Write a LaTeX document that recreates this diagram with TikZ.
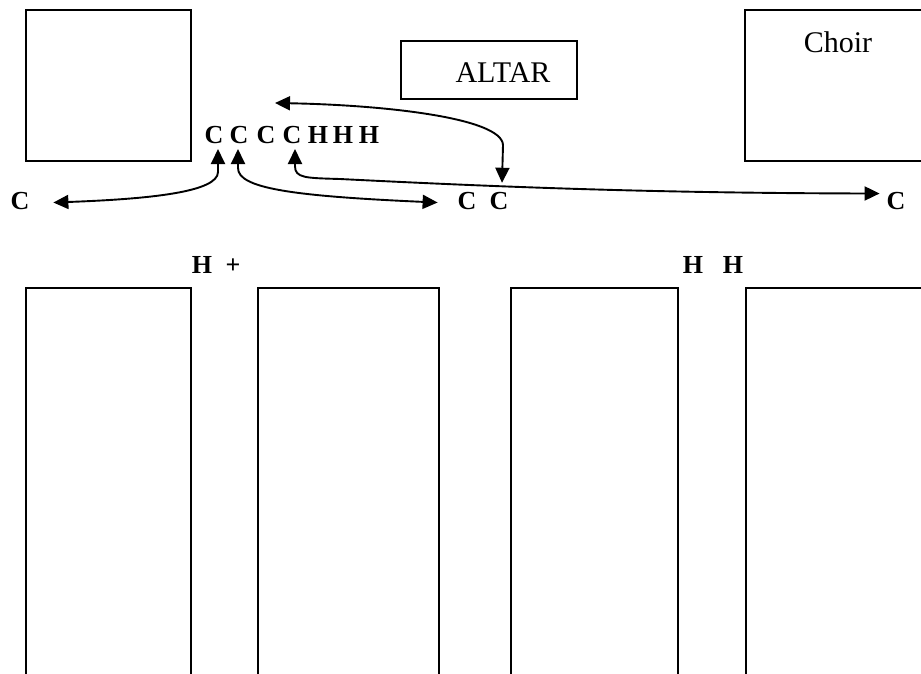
\documentclass[tikz,border=0pt]{standalone}
\usepackage{fontspec}
\setmainfont{Liberation Serif}
\usetikzlibrary{arrows.meta}
\begin{document}
\begin{tikzpicture}[x=1pt,y=-1pt,
  box/.style={draw,line width=1.9pt},
  lbl/.style={inner sep=0pt,outer sep=0pt,anchor=base,font=\fontsize{26}{30}\selectfont\bfseries},
  big/.style={inner sep=0pt,outer sep=0pt,anchor=base,font=\fontsize{30}{34}\selectfont},
  conn/.style={line width=1.9pt,{Triangle[length=15pt,width=14pt]}-{Triangle[length=15pt,width=14pt]}}]
\useasboundingbox (0,0) rectangle (921,673);
\clip (0,0) rectangle (921,673);
% boxes
\draw[box] (26,10) rectangle (191,161);
\draw[box] (745,10) rectangle (960,161);
\draw[box] (401,41) rectangle (577,99);
\draw[box] (26,700) -- (26,288) -- (191,288) -- (191,700);
\draw[box] (258,700) -- (258,288) -- (439,288) -- (439,700);
\draw[box] (511,700) -- (511,288) -- (678,288) -- (678,700);
\draw[box] (746,700) -- (746,288) -- (960,288);
% box texts
\node[big] (altar) at (503,82) {ALTAR};
\node[big] (choir) at (838,52) {Choir};
% top row
\node[lbl] (c1) at (214,143) {C};
\node[lbl] (c2) at (239,143) {C};
\node[lbl] (c3) at (266,143) {C};
\node[lbl] (c4) at (292,143) {C};
\node[lbl] (h1) at (318,143) {H};
\node[lbl] (h2) at (343,143) {H};
\node[lbl] (h3) at (369,143) {H};
% second row
\node[lbl] (lc) at (20,209) {C};
\node[lbl] (cc1) at (467,209) {C};
\node[lbl] (cc2) at (499,209) {C};
\node[lbl] (rc) at (896,209) {C};
% third row
\node[lbl] (hl) at (202,273) {H};
\node[lbl] (plus) at (233,273) {+};
\node[lbl] (hr1) at (693,273) {H};
\node[lbl] (hr2) at (733,273) {H};
% connectors
\coordinate (free) at (275,103);
\draw[conn] ([xshift=4pt,yshift=-6pt]c1.base) -- (218,172)
  .. controls (218,192) and (150,199) .. ([xshift=24pt,yshift=-2pt]lc.east);
\draw[conn] ([xshift=-1pt,yshift=-6pt]c2.base) -- (238,168)
  .. controls (238,188) and (290,196) .. ([xshift=-20pt,yshift=-2pt]cc1.west);
\draw[conn] ([xshift=3pt,yshift=-6pt]c4.base) -- (295,166)
  .. controls (295,178) and (305,178) .. (340,179)
  .. controls (500,187) and (650,193) .. ([xshift=-7pt,yshift=7pt]rc.west);
\draw[conn] (free) .. controls (385,105) and (502,118) .. (503,145)
  -- ([xshift=3pt,yshift=9pt]cc2.north);
\end{tikzpicture}
\end{document}
